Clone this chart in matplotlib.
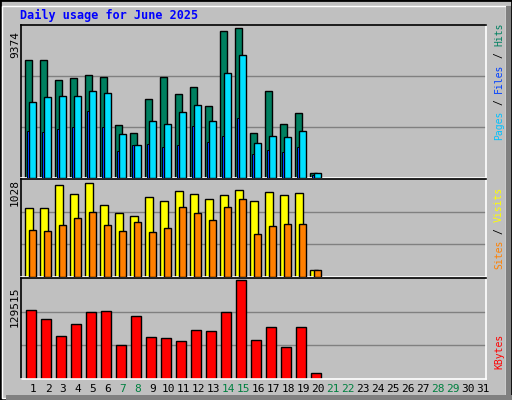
import matplotlib
matplotlib.use("Agg")
import matplotlib.pyplot as plt
from matplotlib.patches import Rectangle
import numpy as np

days = list(range(1, 32))
hits = [7402,7402,6129,6257,6448,6320,3330,2821,4920,6320,5239,5684,4539,9184,9374,2821,5430,3394,4093,339]
files = [4793,5048,5111,5111,5430,5302,2757,2057,3584,3393,4157,4602,3584,6575,7720,2185,2630,2566,2948,339]
pages = [2948,2884,3075,3203,4221,3203,1676,2057,2121,1930,2057,3266,2248,2630,3775,1485,1739,1612,1930,212]
visits = [750,750,1006,906,1028,783,705,672,872,828,939,906,850,894,950,828,928,894,917,82]
sites = [516,505,572,649,716,572,505,605,494,538,761,705,627,761,850,471,560,583,583,82]
kbytes = [89810,78465,55775,71375,86975,88390,44430,82720,54360,52940,50105,64285,62865,86975,129515,51520,68540,41595,68540,7563]
weekend = [7, 8, 14, 15, 21, 22, 28, 29]

W, H = 512, 400
fig = plt.figure(figsize=(W/100, H/100), dpi=100)
fig.patch.set_facecolor("#C0C0C0")
fig.add_artist(Rectangle((0, 0), 1, 1, transform=fig.transFigure, fill=False, ec="black", lw=2))
fig.add_artist(Rectangle((2/W, 2/H), 1-8/W, 1-8/H, transform=fig.transFigure, fill=False, ec="white", lw=1))
fig.add_artist(Rectangle((6/W, 0), 1-6/W, 5/H, transform=fig.transFigure, color="#808080", lw=0))
fig.add_artist(Rectangle((1-6/W, 0), 5/W, 1-6/H, transform=fig.transFigure, color="#808080", lw=0))

mono = "DejaVu Sans Mono"
fig.text(20/W, 1-15/H, "Daily usage for June 2025", color="#0000FF", fontsize=8.5,
         fontweight="bold", family=mono, va="center", ha="left")

x0, x1 = 21, 486
def mkax(ytop, ybot):
    ax = fig.add_axes([x0/W, 1-ybot/H, (x1-x0)/W, (ybot-ytop)/H])
    ax.set_facecolor("#C0C0C0")
    ax.set_xlim(0, 31)
    ax.set_xticks([]); ax.set_yticks([])
    for s in ["top", "left"]:
        ax.spines[s].set_color("black"); ax.spines[s].set_linewidth(1.2)
    for s in ["bottom", "right"]:
        ax.spines[s].set_color("white"); ax.spines[s].set_linewidth(1.2)
    return ax

def grids(ax, top):
    for f in (1/3, 2/3):
        ax.axhline(top*f, color="#808080", lw=1, zorder=0)

n = len(hits)
xs = np.arange(n)
ec = dict(edgecolor="black", linewidth=1.0, align="edge")

ax1 = mkax(25, 178)
top1 = max(hits) * 452/442
ax1.set_ylim(0, top1); grids(ax1, top1)
ax1.bar(xs+0.28, hits, width=0.46, color="#008060", **ec, zorder=2)
ax1.bar(xs+0.54, files, width=0.46, color="#00E0FF", **ec, zorder=3)
ax1.bar(xs+0.41, pages, width=0.13, color="#0040FF", edgecolor="black", linewidth=0.7,
        align="edge", zorder=4)

ax2 = mkax(179, 277)
top2 = max(visits) * 289/277
ax2.set_ylim(0, top2); grids(ax2, top2)
ax2.bar(xs+0.28, visits, width=0.55, color="#FFFF00", **ec, zorder=2)
ax2.bar(xs+0.54, sites, width=0.48, color="#FF8000", **ec, zorder=3)

ax3 = mkax(278, 379)
top3 = max(kbytes) * 279/274
ax3.set_ylim(0, top3); grids(ax3, top3)
ax3.bar(xs+0.35, kbytes, width=0.68, color="#FF0000", **ec, zorder=2)

for d in days:
    fig.text((x0 + (d-1)*15 + 12)/W, 1-389/H, str(d), ha="center", va="center",
             fontsize=8, family=mono, color="#008040" if d in weekend else "black")

fig.text(15/W, 1-45/H, str(max(hits)), rotation=90, ha="center", va="center", fontsize=8, family=mono)
fig.text(15/W, 1-193/H, str(max(visits)), rotation=90, ha="center", va="center", fontsize=8, family=mono)
fig.text(15/W, 1-307/H, str(max(kbytes)), rotation=90, ha="center", va="center", fontsize=8, family=mono)

FS = 7.0
STEP = FS * 0.602 * 100 / 72
def rlabel(parts, ybottom):
    y = ybottom
    for txt, col in parts:
        t = txt.strip()
        lead = len(txt) - len(txt.lstrip())
        fig.text(499/W, 1-(y - lead*STEP)/H, t, rotation=90, ha="center", va="bottom",
                 color=col, fontsize=FS, family=mono)
        y -= STEP*len(txt)

rlabel([("Pages", "#00C0FF"), (" / ", "black"), ("Files", "#0040FF"), (" / ", "black"), ("Hits", "#008060")], 140)
rlabel([("Sites", "#FF8000"), (" / ", "black"), ("Visits", "#FFFF00")], 269)
rlabel([("KBytes", "#FF0000")], 369)

fig.savefig("out.png", dpi=100, facecolor=fig.get_facecolor())
